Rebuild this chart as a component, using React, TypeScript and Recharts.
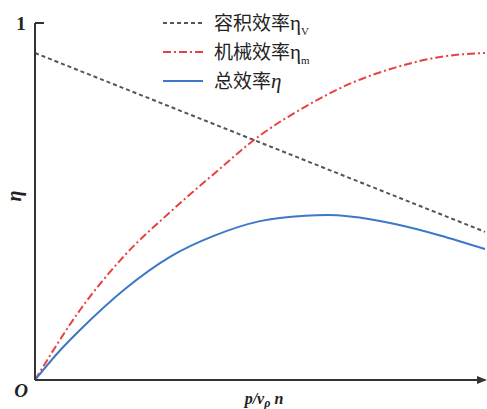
import React from 'react';
import { LineChart, Line, XAxis, YAxis, ReferenceLine, ReferenceDot } from 'recharts';

// readings (x in arbitrary units 0..10, y is efficiency 0..1)
const volX = [0, 10];
const volY = [0.916, 0.415];

const mechX = [0, 1, 2, 3, 4, 5, 6, 7, 8, 9, 10];
const mechY = [0, 0.196, 0.35, 0.47, 0.58, 0.685, 0.765, 0.83, 0.875, 0.905, 0.916];

const totalX = [0, 0.5, 1, 2, 3, 4, 5, 6, 6.5, 7, 8, 9, 10];
const totalY = [0, 0.075, 0.14, 0.255, 0.345, 0.405, 0.445, 0.46, 0.462, 0.458, 0.437, 0.405, 0.367];

const seriesNames = ['容积效率', '机械效率', '总效率'];
const seriesSubs = ['V', 'm', ''];
const seriesColors = ['#555555', '#e8413f', '#3c78c8'];
const seriesDash = ['4 3', '8 3 2 3', undefined];

const yTicks = [0, 1];

const toRows = (xs: number[], ys: number[]) => xs.map((x, i) => ({ x, y: ys[i] }));

const serif = '"Liberation Serif", "DejaVu Serif", serif';
const cjk = '"Noto Sans CJK SC", sans-serif';

const YTick = (props: any) => {
  const { x, y, payload } = props;
  if (payload.value === 0) {
    return (
      <text x={x - 12} y={y + 17} textAnchor="middle" fontFamily={serif} fontWeight="bold" fontStyle="italic" fontSize={19} fill="#222">
        O
      </text>
    );
  }
  return (
    <text x={x - 12} y={y + 7} textAnchor="middle" fontFamily={serif} fontWeight="bold" fontSize={19} fill="#222">
      1
    </text>
  );
};

const LegendBox = () => (
  <div style={{ position: 'absolute', left: 162, top: 8, display: 'flex', flexDirection: 'column' }}>
    {seriesNames.map((name, i) => (
      <div key={name} style={{ display: 'flex', alignItems: 'center', height: 29 }}>
        <svg width={42} height={6}>
          <line x1={1} y1={3} x2={41} y2={3} stroke={seriesColors[i]} strokeWidth={2} strokeDasharray={seriesDash[i]} />
        </svg>
        <span style={{ marginLeft: 10, fontFamily: cjk, fontSize: 19, color: '#222', whiteSpace: 'nowrap' }}>
          {name}
          <span style={{ fontFamily: serif, fontStyle: i === 2 ? 'italic' : 'normal', fontSize: 21 }}>η</span>
          <sub style={{ fontFamily: serif, fontSize: 11 }}>{seriesSubs[i]}</sub>
        </span>
      </div>
    ))}
  </div>
);

const Arrow = (props: any) => {
  const { cx, cy } = props;
  return <path d={`M${cx + 2},${cy} L${cx - 8},${cy - 4} L${cx - 8},${cy + 4} Z`} fill="#333" />;
};

const XLabel = (props: any) => {
  const { viewBox } = props;
  const cx = viewBox.x + viewBox.width / 2 + 4;
  const cy = viewBox.y + 24;
  return (
    <text x={cx} y={cy} textAnchor="middle" fontFamily={serif} fontWeight="bold" fontStyle="italic" fontSize={16} fill="#222">
      p/v
      <tspan fontSize={12} dy={3}>ρ</tspan>
      <tspan dy={-3}> n</tspan>
    </text>
  );
};

export default function App() {
  return (
    <div style={{ position: 'absolute', left: 0, top: 0, width: 487, height: 409, background: '#fff' }}>
      <LineChart width={487} height={409} margin={{ top: 23, right: 2, bottom: 0, left: 0 }}>
        <XAxis
          type="number"
          dataKey="x"
          domain={[0, 10]}
          ticks={[]}
          tick={false}
          tickLine={false}
          height={29}
          axisLine={{ stroke: '#333', strokeWidth: 2 }}
          label={{ content: XLabel }}
        />
        <YAxis
          type="number"
          dataKey="y"
          domain={[0, 1]}
          ticks={yTicks}
          tick={YTick}
          tickLine={false}
          tickSize={0}
          width={35}
          axisLine={{ stroke: '#333', strokeWidth: 2 }}
          label={{ value: 'η', angle: -90, position: 'insideLeft', offset: 14, fontFamily: serif, fontWeight: 'bold', fontStyle: 'italic', fontSize: 20, fill: '#222' }}
        />
        <ReferenceLine segment={[{ x: 0, y: 1 }, { x: 0.2, y: 1 }]} stroke="#333" strokeWidth={2} ifOverflow="visible" />
        <ReferenceDot x={10} y={0} shape={Arrow} ifOverflow="visible" />
        <Line data={toRows(volX, volY)} dataKey="y" name={seriesNames[0]} type="linear" stroke={seriesColors[0]} strokeWidth={2} strokeDasharray={seriesDash[0]} dot={false} isAnimationActive={false} />
        <Line data={toRows(mechX, mechY)} dataKey="y" name={seriesNames[1]} type="monotone" stroke={seriesColors[1]} strokeWidth={2} strokeDasharray={seriesDash[1]} dot={false} isAnimationActive={false} />
        <Line data={toRows(totalX, totalY)} dataKey="y" name={seriesNames[2]} type="monotone" stroke={seriesColors[2]} strokeWidth={2} dot={false} isAnimationActive={false} />
      </LineChart>
      <LegendBox />
    </div>
  );
}
